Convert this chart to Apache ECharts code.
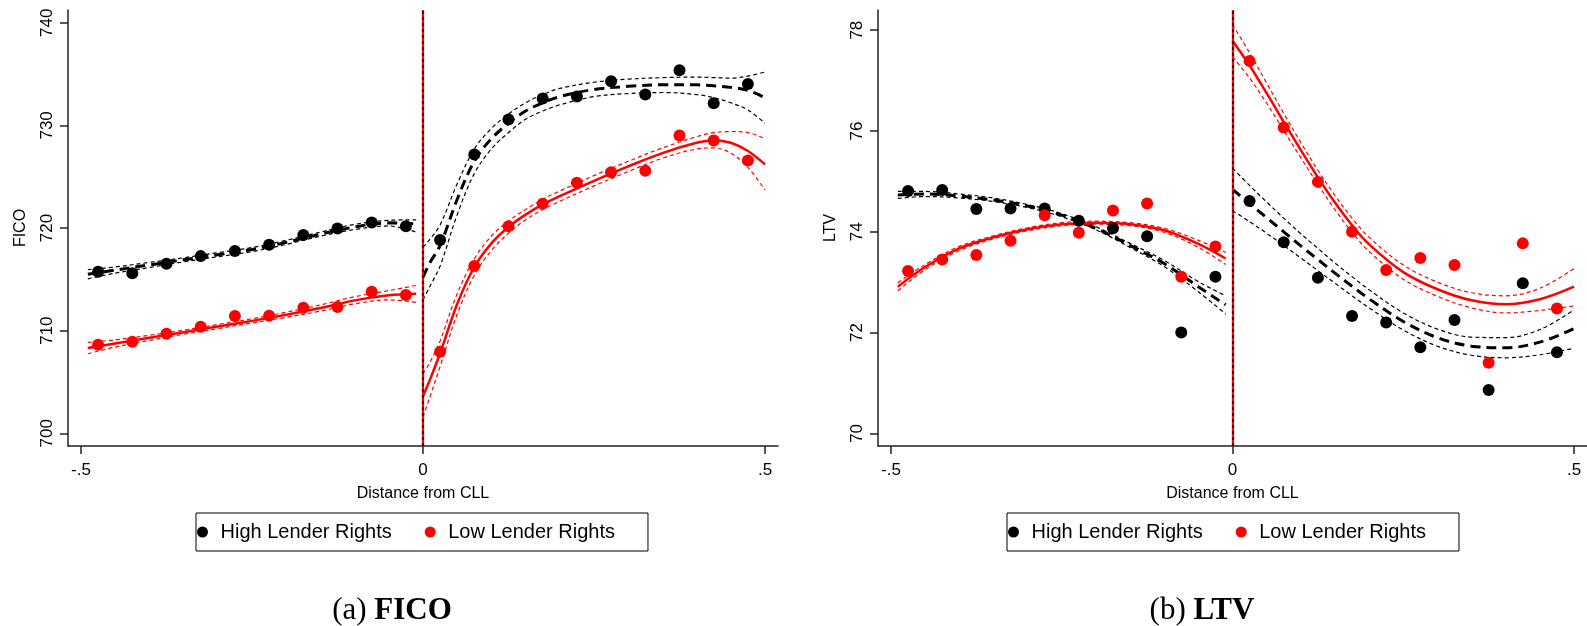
<!DOCTYPE html>
<html>
<head>
<meta charset="utf-8">
<script src="https://cdn.jsdelivr.net/npm/echarts@6/dist/echarts.min.js"></script>
<style>
html,body{margin:0;padding:0;background:#fff;}
#chart{width:1587px;height:626px;}
</style>
</head>
<body>
<div id="chart"></div>
<script>
// ---------- Data ----------
const seriesNames = ['High Lender Rights', 'Low Lender Rights'];
const xTickValues = [-0.5, 0, 0.5];
const xTickLabels = ['-.5', '0', '.5'];
const ficoTicks = [700, 710, 720, 730, 740];
const ltvTicks = [70, 72, 74, 76, 78];

// bin midpoints
const binsLeft = [-0.475, -0.425, -0.375, -0.325, -0.275, -0.225, -0.175, -0.125, -0.075, -0.025];
const binsRight = [0.025, 0.075, 0.125, 0.175, 0.225, 0.275, 0.325, 0.375, 0.425, 0.475];

// FICO binned means
const ficoHighL = [715.74, 715.58, 716.52, 717.26, 717.75, 718.37, 719.31, 719.96, 720.54, 720.18];
const ficoHighR = [718.82, 727.17, 730.57, 732.62, 732.81, 734.30, 733.01, 735.37, 732.16, 734.04];
const ficoLowL = [708.63, 708.92, 709.70, 710.38, 711.42, 711.45, 712.23, 712.30, 713.79, 713.47];
const ficoLowR = [707.95, 716.29, 720.16, 722.36, 724.40, 725.44, 725.57, 729.02, 728.53, 726.58];

// LTV binned means
const ltvHighL = [74.81, 74.83, 74.45, 74.46, 74.46, 74.22, 74.07, 73.91, 72.00, 73.11];
const ltvHighR = [74.61, 73.79, 73.09, 72.33, 72.20, 71.71, 72.25, 70.86, 72.98, 71.61];
const ltvLowL = [73.22, 73.45, 73.54, 73.82, 74.33, 73.98, 74.42, 74.56, 73.11, 73.71];
const ltvLowR = [77.39, 76.07, 74.99, 74.00, 73.24, 73.48, 73.34, 71.40, 73.77, 72.48];

// Fitted curves (x grids)
const fitXL = [-0.49, -0.45, -0.40, -0.35, -0.30, -0.25, -0.20, -0.15, -0.10, -0.05, -0.01];
const fitXRfico = [0, 0.01, 0.025, 0.05, 0.075, 0.1, 0.125, 0.15, 0.175, 0.2, 0.25, 0.3, 0.35, 0.4, 0.425, 0.45, 0.475, 0.5];
const fitXRltv = [0, 0.025, 0.05, 0.075, 0.1, 0.125, 0.15, 0.175, 0.2, 0.25, 0.3, 0.35, 0.4, 0.45, 0.5];

// FICO fits
const ficoHighFitL = [715.5, 715.9, 716.4, 716.9, 717.4, 717.9, 718.6, 719.4, 720.1, 720.5, 720.4];
const ficoHighUpL  = [715.95, 716.2, 716.65, 717.1, 717.6, 718.1, 718.8, 719.6, 720.35, 720.75, 720.8];
const ficoHighLoL  = [715.05, 715.6, 716.15, 716.7, 717.2, 717.7, 718.4, 719.2, 719.85, 720.2, 719.6];
const ficoLowFitL  = [708.3, 708.75, 709.3, 709.85, 710.4, 710.95, 711.55, 712.2, 712.95, 713.45, 713.6];
const ficoLowUpL   = [708.85, 709.1, 709.55, 710.05, 710.6, 711.15, 711.8, 712.5, 713.3, 713.9, 714.4];
const ficoLowLoL   = [707.75, 708.4, 709.05, 709.65, 710.2, 710.75, 711.3, 711.9, 712.6, 713.0, 712.75];

const ficoHighFitR = [715.2, 716.6, 718.3, 722.8, 726.5, 728.7, 730.2, 731.4, 732.2, 732.8, 733.5, 733.8, 733.95, 733.95, 733.85, 733.7, 733.4, 732.7];
const ficoHighUpR  = [718.1, 718.9, 720.3, 724.3, 727.7, 729.7, 731.1, 732.2, 733.0, 733.6, 734.2, 734.5, 734.65, 734.7, 734.65, 734.6, 734.8, 735.2];
const ficoHighLoR  = [713.0, 714.3, 716.3, 721.3, 725.3, 727.7, 729.3, 730.6, 731.4, 732.0, 732.8, 733.1, 733.2, 733.0, 732.7, 732.2, 731.5, 730.2];
const ficoLowFitR  = [703.6, 705.2, 707.8, 712.6, 716.2, 718.5, 720.1, 721.3, 722.3, 723.1, 724.6, 726.0, 727.3, 728.3, 728.55, 728.3, 727.5, 726.2];
const ficoLowUpR   = [705.8, 706.9, 709.0, 713.6, 717.0, 719.2, 720.7, 721.8, 722.8, 723.6, 725.1, 726.5, 727.8, 728.9, 729.3, 729.4, 729.3, 728.7];
const ficoLowLoR   = [701.6, 703.5, 706.5, 711.6, 715.4, 717.8, 719.5, 720.8, 721.8, 722.6, 724.1, 725.5, 726.8, 727.7, 727.8, 727.3, 725.9, 723.7];

// LTV fits
const ltvHighFitL = [74.73, 74.75, 74.71, 74.63, 74.51, 74.33, 74.07, 73.73, 73.37, 72.91, 72.55];
const ltvHighUpL  = [74.80, 74.80, 74.75, 74.67, 74.54, 74.36, 74.10, 73.77, 73.43, 73.01, 72.73];
const ltvHighLoL  = [74.66, 74.70, 74.67, 74.60, 74.48, 74.30, 74.04, 73.69, 73.31, 72.81, 72.37];
const ltvLowFitL  = [72.91, 73.30, 73.67, 73.89, 74.05, 74.15, 74.18, 74.15, 74.03, 73.76, 73.47];
const ltvLowUpL   = [72.99, 73.35, 73.71, 73.92, 74.08, 74.18, 74.21, 74.18, 74.07, 73.83, 73.59];
const ltvLowLoL   = [72.83, 73.25, 73.63, 73.86, 74.02, 74.12, 74.15, 74.12, 73.99, 73.69, 73.35];

const ltvHighFitR = [74.84, 74.56, 74.28, 74.00, 73.72, 73.45, 73.18, 72.92, 72.67, 72.22, 71.90, 71.73, 71.70, 71.81, 72.08];
const ltvHighUpR  = [75.26, 74.92, 74.59, 74.27, 73.96, 73.67, 73.38, 73.11, 72.85, 72.39, 72.07, 71.91, 71.90, 72.06, 72.45];
const ltvHighLoR  = [74.42, 74.20, 73.97, 73.73, 73.48, 73.23, 72.98, 72.73, 72.49, 72.05, 71.73, 71.55, 71.50, 71.56, 71.69];
const ltvLowFitR  = [77.79, 77.30, 76.75, 76.18, 75.62, 75.08, 74.58, 74.13, 73.75, 73.20, 72.86, 72.64, 72.56, 72.66, 72.91];
const ltvLowUpR   = [78.11, 77.55, 76.95, 76.35, 75.77, 75.22, 74.72, 74.27, 73.89, 73.34, 73.00, 72.79, 72.73, 72.88, 73.27];
const ltvLowLoR   = [77.47, 77.05, 76.55, 76.01, 75.47, 74.94, 74.44, 73.99, 73.61, 73.06, 72.72, 72.49, 72.39, 72.44, 72.53];

// ---------- Chart ----------
const FONT = 'Liberation Sans, Arial, Helvetica, sans-serif';
const SERIF = 'Liberation Serif, DejaVu Serif, serif';
const BLACK = '#000000';
const RED = '#ff0000';
const chart = echarts.init(document.getElementById('chart'), null, {renderer: 'canvas'});

function pts(xs, ys) { return xs.map((x, i) => [x, ys[i]]); }

function lineS(idx, xs, ys, color, width, type) {
  return {
    type: 'line', name: 'fit', xAxisIndex: idx, yAxisIndex: idx,
    data: pts(xs, ys), showSymbol: false, symbol: 'none', smooth: 0.35,
    lineStyle: {color: color, width: width, type: type, opacity: 1},
    silent: true, z: 3
  };
}
function scatterS(idx, name, xs, ys, color) {
  return {
    type: 'scatter', name: name, xAxisIndex: idx, yAxisIndex: idx,
    data: pts(xs, ys), symbol: 'circle', symbolSize: 12,
    itemStyle: {color: color, opacity: 1}, z: 4
  };
}
function xAxisCfg(idx) {
  return {
    type: 'value', gridIndex: idx, min: -0.519, max: 0.519,
    name: 'Distance from CLL', nameLocation: 'middle', nameGap: 40,
    nameTextStyle: {fontFamily: FONT, fontSize: 16, color: '#000'},
    axisLine: {show: true, onZero: false, lineStyle: {color: '#222', width: 1.5}},
    axisTick: {show: true, length: 8, customValues: xTickValues, lineStyle: {color: '#222', width: 1.5}},
    axisLabel: {customValues: xTickValues, margin: 16, fontFamily: FONT, fontSize: 17, color: '#000',
      formatter: v => { const i = xTickValues.indexOf(v); return i >= 0 ? xTickLabels[i] : ''; }},
    splitLine: {show: false}
  };
}
function yAxisCfg(idx, name, min, max, ticks) {
  return {
    type: 'value', gridIndex: idx, min: min, max: max,
    name: name, nameLocation: 'middle', nameGap: 39, nameRotate: 90,
    nameTextStyle: {fontFamily: FONT, fontSize: 16, color: '#000'},
    axisLine: {show: true, onZero: false, lineStyle: {color: '#222', width: 1.5}},
    axisTick: {show: true, length: 8, customValues: ticks, lineStyle: {color: '#222', width: 1.5}},
    axisLabel: {customValues: ticks, rotate: 90, margin: 12, fontFamily: FONT, fontSize: 17, color: '#000'},
    splitLine: {show: false}
  };
}
function cutoff(idx) {
  return [
    {type: 'line', name: 'cut', xAxisIndex: idx, yAxisIndex: idx, data: [], silent: true, z: 2,
     markLine: {silent: true, symbol: ['none', 'none'], label: {show: false},
       lineStyle: {color: RED, width: 2.2, type: 'solid'}, data: [{xAxis: 0}]}},
    {type: 'line', name: 'cut', xAxisIndex: idx, yAxisIndex: idx, data: [], silent: true, z: 2,
     markLine: {silent: true, symbol: ['none', 'none'], label: {show: false},
       lineStyle: {color: '#1a1a1a', width: 2.2, type: [3, 3]}, data: [{xAxis: 0}]}}
  ];
}
function legendCfg(left) {
  return {
    data: seriesNames, left: left, top: 513, orient: 'horizontal',
    icon: 'circle', itemWidth: 26, itemHeight: 11, itemGap: 33,
    padding: [9, 33, 9, 1], borderColor: '#000', borderWidth: 1,
    textStyle: {fontFamily: FONT, fontSize: 20, color: '#000'},
    selectedMode: false
  };
}
function caption(x, tag, word) {
  return {type: 'text', x: x, y: 611, silent: true,
    style: {text: '{r|' + tag + ' }{b|' + word + '}', align: 'center', verticalAlign: 'middle',
      rich: {r: {fontFamily: SERIF, fontSize: 31, color: '#000'},
             b: {fontFamily: SERIF, fontSize: 31, fontWeight: 'bold', color: '#000'}}}};
}

const series = [].concat(
  cutoff(0), cutoff(1),
  [
    // FICO panel
    lineS(0, fitXL, ficoHighUpL, BLACK, 1.2, [4, 3]),
    lineS(0, fitXL, ficoHighLoL, BLACK, 1.2, [4, 3]),
    lineS(0, fitXL, ficoHighFitL, BLACK, 3, [10, 6]),
    lineS(0, fitXRfico, ficoHighUpR, BLACK, 1.2, [4, 3]),
    lineS(0, fitXRfico, ficoHighLoR, BLACK, 1.2, [4, 3]),
    lineS(0, fitXRfico, ficoHighFitR, BLACK, 3, [10, 6]),
    lineS(0, fitXL, ficoLowUpL, RED, 1.2, [4, 3]),
    lineS(0, fitXL, ficoLowLoL, RED, 1.2, [4, 3]),
    lineS(0, fitXL, ficoLowFitL, RED, 2.5, 'solid'),
    lineS(0, fitXRfico, ficoLowUpR, RED, 1.2, [4, 3]),
    lineS(0, fitXRfico, ficoLowLoR, RED, 1.2, [4, 3]),
    lineS(0, fitXRfico, ficoLowFitR, RED, 2.5, 'solid'),
    scatterS(0, seriesNames[0], binsLeft.concat(binsRight), ficoHighL.concat(ficoHighR), BLACK),
    scatterS(0, seriesNames[1], binsLeft.concat(binsRight), ficoLowL.concat(ficoLowR), RED),
    // LTV panel
    lineS(1, fitXL, ltvHighUpL, BLACK, 1.2, [4, 3]),
    lineS(1, fitXL, ltvHighLoL, BLACK, 1.2, [4, 3]),
    lineS(1, fitXL, ltvHighFitL, BLACK, 3, [10, 6]),
    lineS(1, fitXRltv, ltvHighUpR, BLACK, 1.2, [4, 3]),
    lineS(1, fitXRltv, ltvHighLoR, BLACK, 1.2, [4, 3]),
    lineS(1, fitXRltv, ltvHighFitR, BLACK, 3, [10, 6]),
    lineS(1, fitXL, ltvLowUpL, RED, 1.2, [4, 3]),
    lineS(1, fitXL, ltvLowLoL, RED, 1.2, [4, 3]),
    lineS(1, fitXL, ltvLowFitL, RED, 2.5, 'solid'),
    lineS(1, fitXRltv, ltvLowUpR, RED, 1.2, [4, 3]),
    lineS(1, fitXRltv, ltvLowLoR, RED, 1.2, [4, 3]),
    lineS(1, fitXRltv, ltvLowFitR, RED, 2.5, 'solid'),
    scatterS(1, seriesNames[0], binsLeft.concat(binsRight), ltvHighL.concat(ltvHighR), BLACK),
    scatterS(1, seriesNames[1], binsLeft.concat(binsRight), ltvLowL.concat(ltvLowR), RED)
  ]
);

const option = {
  backgroundColor: '#ffffff',
  animation: false,
  grid: [
    {left: 68, top: 10, width: 710, height: 436},
    {left: 878, top: 10, width: 709, height: 436}
  ],
  xAxis: [xAxisCfg(0), xAxisCfg(1)],
  yAxis: [
    yAxisCfg(0, 'FICO', 698.76, 741.24, ficoTicks),
    yAxisCfg(1, 'LTV', 69.75, 78.4, ltvTicks)
  ],
  legend: [legendCfg(196), legendCfg(1007)],
  graphic: [caption(392, '(a)', 'FICO'), caption(1202, '(b)', 'LTV')],
  series: series
};
chart.setOption(option);
</script>
</body>
</html>
